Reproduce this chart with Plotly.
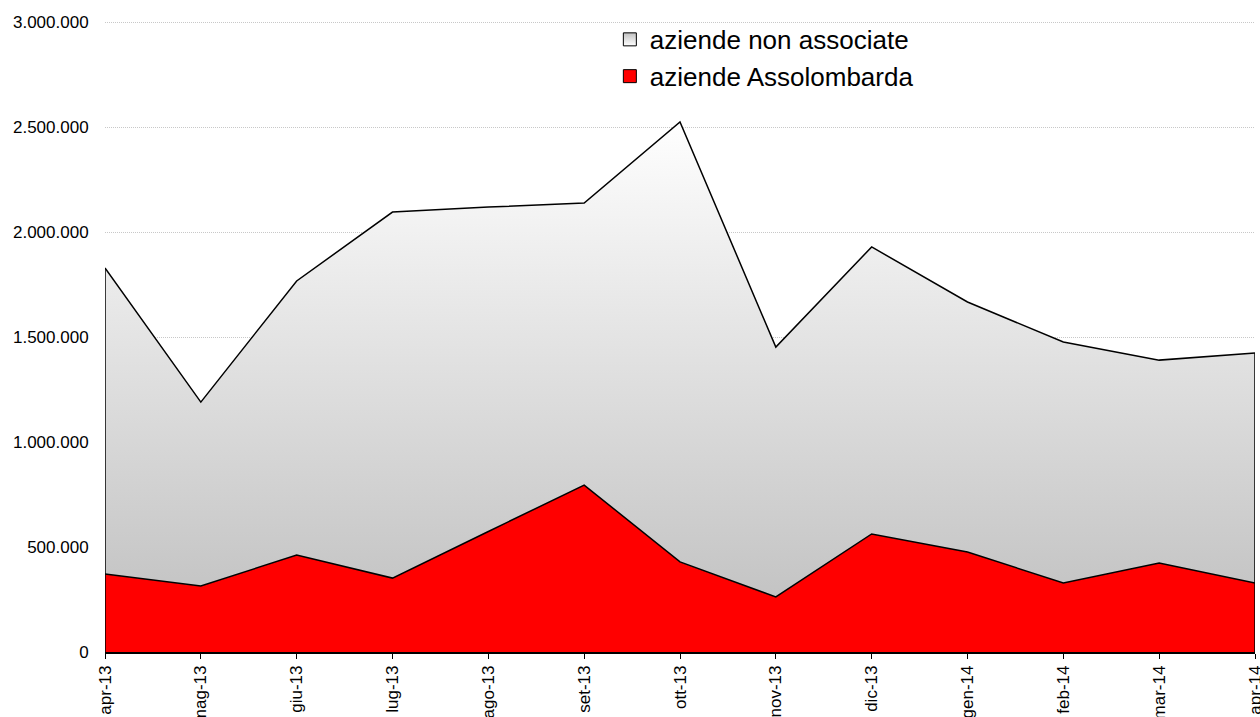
import plotly.graph_objects as go

months = ["apr-13", "mag-13", "giu-13", "lug-13", "ago-13", "set-13", "ott-13",
          "nov-13", "dic-13", "gen-14", "feb-14", "mar-14", "apr-14"]
assolombarda = [371000, 314000, 462000, 352000, 574000, 795000, 429000,
                262000, 562000, 476000, 329000, 424000, 329000]
non_associate = [1458000, 876000, 1305000, 1743000, 1545000, 1343000, 2095000,
                 1190000, 1367000, 1191000, 1147000, 966000, 1095000]

FONT = "Liberation Sans, Arial, sans-serif"
GRAD = [[0, "#bdbdbd"], [1, "#ffffff"]]

fig = go.Figure()
fig.add_trace(go.Scatter(
    x=months, y=assolombarda, name="aziende Assolombarda",
    stackgroup="one", mode="lines", showlegend=False,
    line=dict(color="black", width=1.5),
    fillcolor="#ff0000",
))
fig.add_trace(go.Scatter(
    x=months, y=non_associate, name="aziende non associate",
    stackgroup="one", mode="lines", showlegend=False,
    line=dict(color="black", width=1.5),
    fillgradient=dict(type="vertical", start=0, stop=2550000, colorscale=GRAD),
))
# left / right edge outlines of the stacked area
first_total = assolombarda[0] + non_associate[0]
last_total = assolombarda[-1] + non_associate[-1]
for xm, tot in ((months[0], first_total), (months[-1], last_total)):
    fig.add_trace(go.Scatter(
        x=[xm, xm], y=[0, tot], mode="lines",
        line=dict(color="black", width=1.5), showlegend=False, hoverinfo="skip",
    ))

# legend entries with square swatches
fig.add_trace(go.Scatter(
    x=[None], y=[None], mode="markers", name="aziende Assolombarda",
    marker=dict(symbol="square", size=13, color="#ff0000",
                line=dict(color="black", width=1)),
))
fig.add_trace(go.Scatter(
    x=[None], y=[None], mode="markers", name="aziende non associate",
    marker=dict(symbol="square", size=13, color="#c0c0c0",
                gradient=dict(type="vertical", color="#ffffff"),
                line=dict(color="black", width=1)),
))

fig.update_layout(
    width=1260, height=717,
    margin=dict(l=105, r=5, t=21, b=65),
    paper_bgcolor="white", plot_bgcolor="white",
    separators=",.",
    font=dict(family=FONT, size=17, color="black"),
    showlegend=True,
    legend=dict(x=0.439, y=1.008, xanchor="left", yanchor="top",
                traceorder="reversed", font=dict(size=26, family=FONT, color="black"),
                bgcolor="rgba(0,0,0,0)", itemwidth=30, tracegroupgap=0),
)
fig.update_xaxes(
    type="category", range=[0, len(months) - 1], automargin=False,
    tickangle=-90, showgrid=False, showline=True, linecolor="black", linewidth=1.5,
    ticks="outside", ticklen=5, tickcolor="black", tickwidth=1,
    tickfont=dict(size=17, family=FONT, color="black"),
)
fig.update_yaxes(
    range=[0, 3005000], dtick=500000, tickformat=",d", automargin=False,
    showgrid=True, gridcolor="#c8c8c8", griddash="1px,1px", gridwidth=1,
    showline=False, ticks="outside", ticklen=12, tickcolor="rgba(0,0,0,0)",
    zeroline=False,
    tickfont=dict(size=17, family=FONT, color="black"),
)

fig.write_html("out.html", config={"displayModeBar": False},
               post_script="document.body.style.margin='0';document.body.style.overflow='hidden';")
